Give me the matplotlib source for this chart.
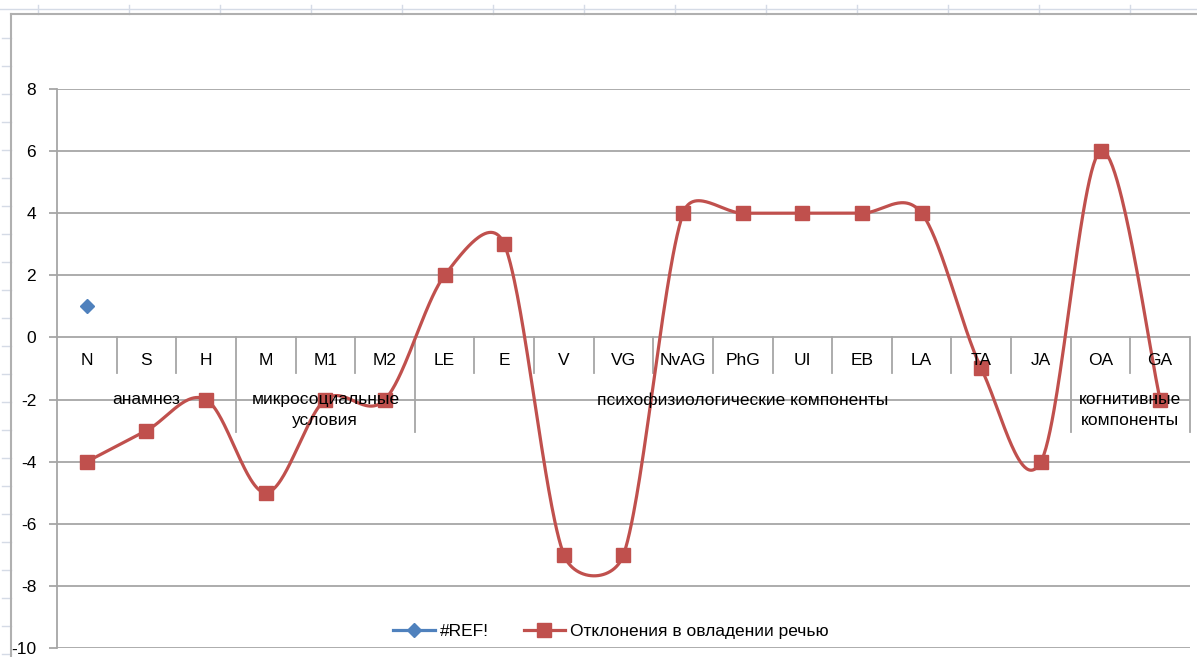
import numpy as np
import matplotlib
matplotlib.use('Agg')
import matplotlib.pyplot as plt
from matplotlib.lines import Line2D

plt.rcParams['axes.unicode_minus'] = False

# ---------------- data ----------------
categories = ['N', 'S', 'H', 'M', 'M1', 'M2', 'LE', 'E', 'V', 'VG', 'NvAG', 'PhG',
              'UI', 'EB', 'LA', 'TA', 'JA', 'OA', 'GA']
values = [-4, -3, -2, -5, -2, -2, 2, 3, -7, -7, 4, 4, 4, 4, 4, -1, -4, 6, -2]
ref_category = 'N'
ref_value = 1
groups = ['анамнез', 'микросоциальные\nусловия', 'психофизиологические компоненты',
          'когнитивные\nкомпоненты']
group_sizes = [3, 3, 11, 2]
yticks = list(range(-10, 9, 2))
series_names = ['#REF!', 'Отклонения в овладении речью']

RED = '#C0504D'
BLUE = '#4F81BD'
GRID = '#A6A6A6'
FONT = 'Liberation Sans'
FS = 12.5

W, H = 1197, 657
fig = plt.figure(figsize=(W / 100, H / 100), dpi=100)
fig.patch.set_facecolor('white')


def fx(px):
    return px / W


def fy(py):
    return 1 - py / H


# spreadsheet background decorations
SHEET = '#D5DBE6'
fig.add_artist(Line2D([0, 1], [fy(9), fy(9)], color=SHEET, lw=1.0))
for xk in range(38, W, 91):
    fig.add_artist(Line2D([fx(xk), fx(xk)], [fy(5), fy(14)], color=SHEET, lw=1.0))
for yk in range(38, H, 28):
    fig.add_artist(Line2D([fx(2), fx(11)], [fy(yk), fy(yk)], color=SHEET, lw=1.0))
# chart border
fig.add_artist(Line2D([fx(11), fx(11)], [fy(14), 0], color='#B0B0B0', lw=1.5))
fig.add_artist(Line2D([fx(11), 1], [fy(14), fy(14)], color='#B0B0B0', lw=1.5))

ax = fig.add_axes([fx(57), fy(648), fx(1190) - fx(57), fy(89) - fy(648)])
n = len(categories)
ax.set_xlim(-0.5, n - 0.5)
ax.set_ylim(-10, 8)
ax.set_yticks(yticks)
ax.set_xticks([])
ax.yaxis.grid(True, color=GRID, lw=1.3)
ax.set_axisbelow(True)
for s in ['top', 'right', 'bottom']:
    ax.spines[s].set_visible(False)
ax.spines['left'].set_color(GRID)
ax.spines['left'].set_linewidth(1.3)
ax.tick_params(axis='y', length=6, width=1.3, color=GRID, pad=9, labelsize=FS)
for lab in ax.get_yticklabels():
    lab.set_fontfamily(FONT)

# category axis labels (multi-level)
px_per_unit = (648 - 89) / 18.0


def ypx(py):
    return -(py - 337.5) / px_per_unit


for i, c in enumerate(categories):
    ax.text(i, ypx(361), c, ha='center', va='center', fontsize=FS, fontfamily=FONT,
            color='black', zorder=7)

bounds = np.cumsum(group_sizes) - 0.5
for b in np.arange(0.5, n - 0.5, 1.0):
    if not np.any(np.isclose(bounds, b)):
        ax.plot([b, b], [0, ypx(373)], color=GRID, lw=1.3, clip_on=False, zorder=1)
for b in bounds:
    ax.plot([b, b], [0, ypx(432)], color=GRID, lw=1.3, clip_on=False, zorder=1)

start = -0.5
for g, sz in zip(groups, group_sizes):
    cx = start + sz / 2.0
    for k, line in enumerate(g.split('\n')):
        ax.text(cx, ypx(400 + 21 * k), line, ha='center', va='center', fontsize=FS,
                fontfamily=FONT, color='black', zorder=7)
    start += sz

# Excel-like smoothed line, computed in display space
xs = np.arange(n)
P = ax.transData.transform(np.column_stack([xs, values]).astype(float))


def excel_smooth(P, steps=60):
    out = [P[0]]
    N = len(P)
    for i in range(N - 1):
        p0 = P[i - 1] if i > 0 else P[i]
        p1 = P[i]
        p2 = P[i + 1]
        p3 = P[i + 2] if i + 2 < N else P[i + 1]
        d12 = np.hypot(*(p2 - p1))
        o1 = (p2 - p0) / 6.0
        o2 = (p3 - p1) / 6.0
        l1 = np.hypot(*o1)
        l2 = np.hypot(*o2)
        if l1 > d12 / 2:
            o1 = o1 * (d12 / 2 / l1)
        if l2 > d12 / 2:
            o2 = o2 * (d12 / 2 / l2)
        b1 = p1 + o1
        b2 = p2 - o2
        t = np.linspace(0, 1, steps)[1:, None]
        seg = (1 - t) ** 3 * p1 + 3 * (1 - t) ** 2 * t * b1 + 3 * (1 - t) * t ** 2 * b2 + t ** 3 * p2
        out.extend(seg)
    return np.array(out)


curve = ax.transData.inverted().transform(excel_smooth(P))
ax.plot(curve[:, 0], curve[:, 1], color=RED, lw=2.3, zorder=4, solid_capstyle='round')
ax.plot(xs, values, linestyle='none', marker='s', markersize=10, color=RED, zorder=5)
ax.plot([categories.index(ref_category)], [ref_value], linestyle='none', marker='D',
        markersize=7.5, color=BLUE, zorder=5)

handles = [Line2D([], [], color=BLUE, lw=2.3, marker='D', markersize=7.5),
           Line2D([], [], color=RED, lw=2.3, marker='s', markersize=10)]
leg = fig.legend(handles, series_names, loc='center', bbox_to_anchor=(fx(611), fy(631)),
                 ncol=2, frameon=False, handlelength=2.4, handletextpad=0.3,
                 columnspacing=2.0, prop={'family': FONT, 'size': FS})

fig.savefig('out.png', dpi=100)
